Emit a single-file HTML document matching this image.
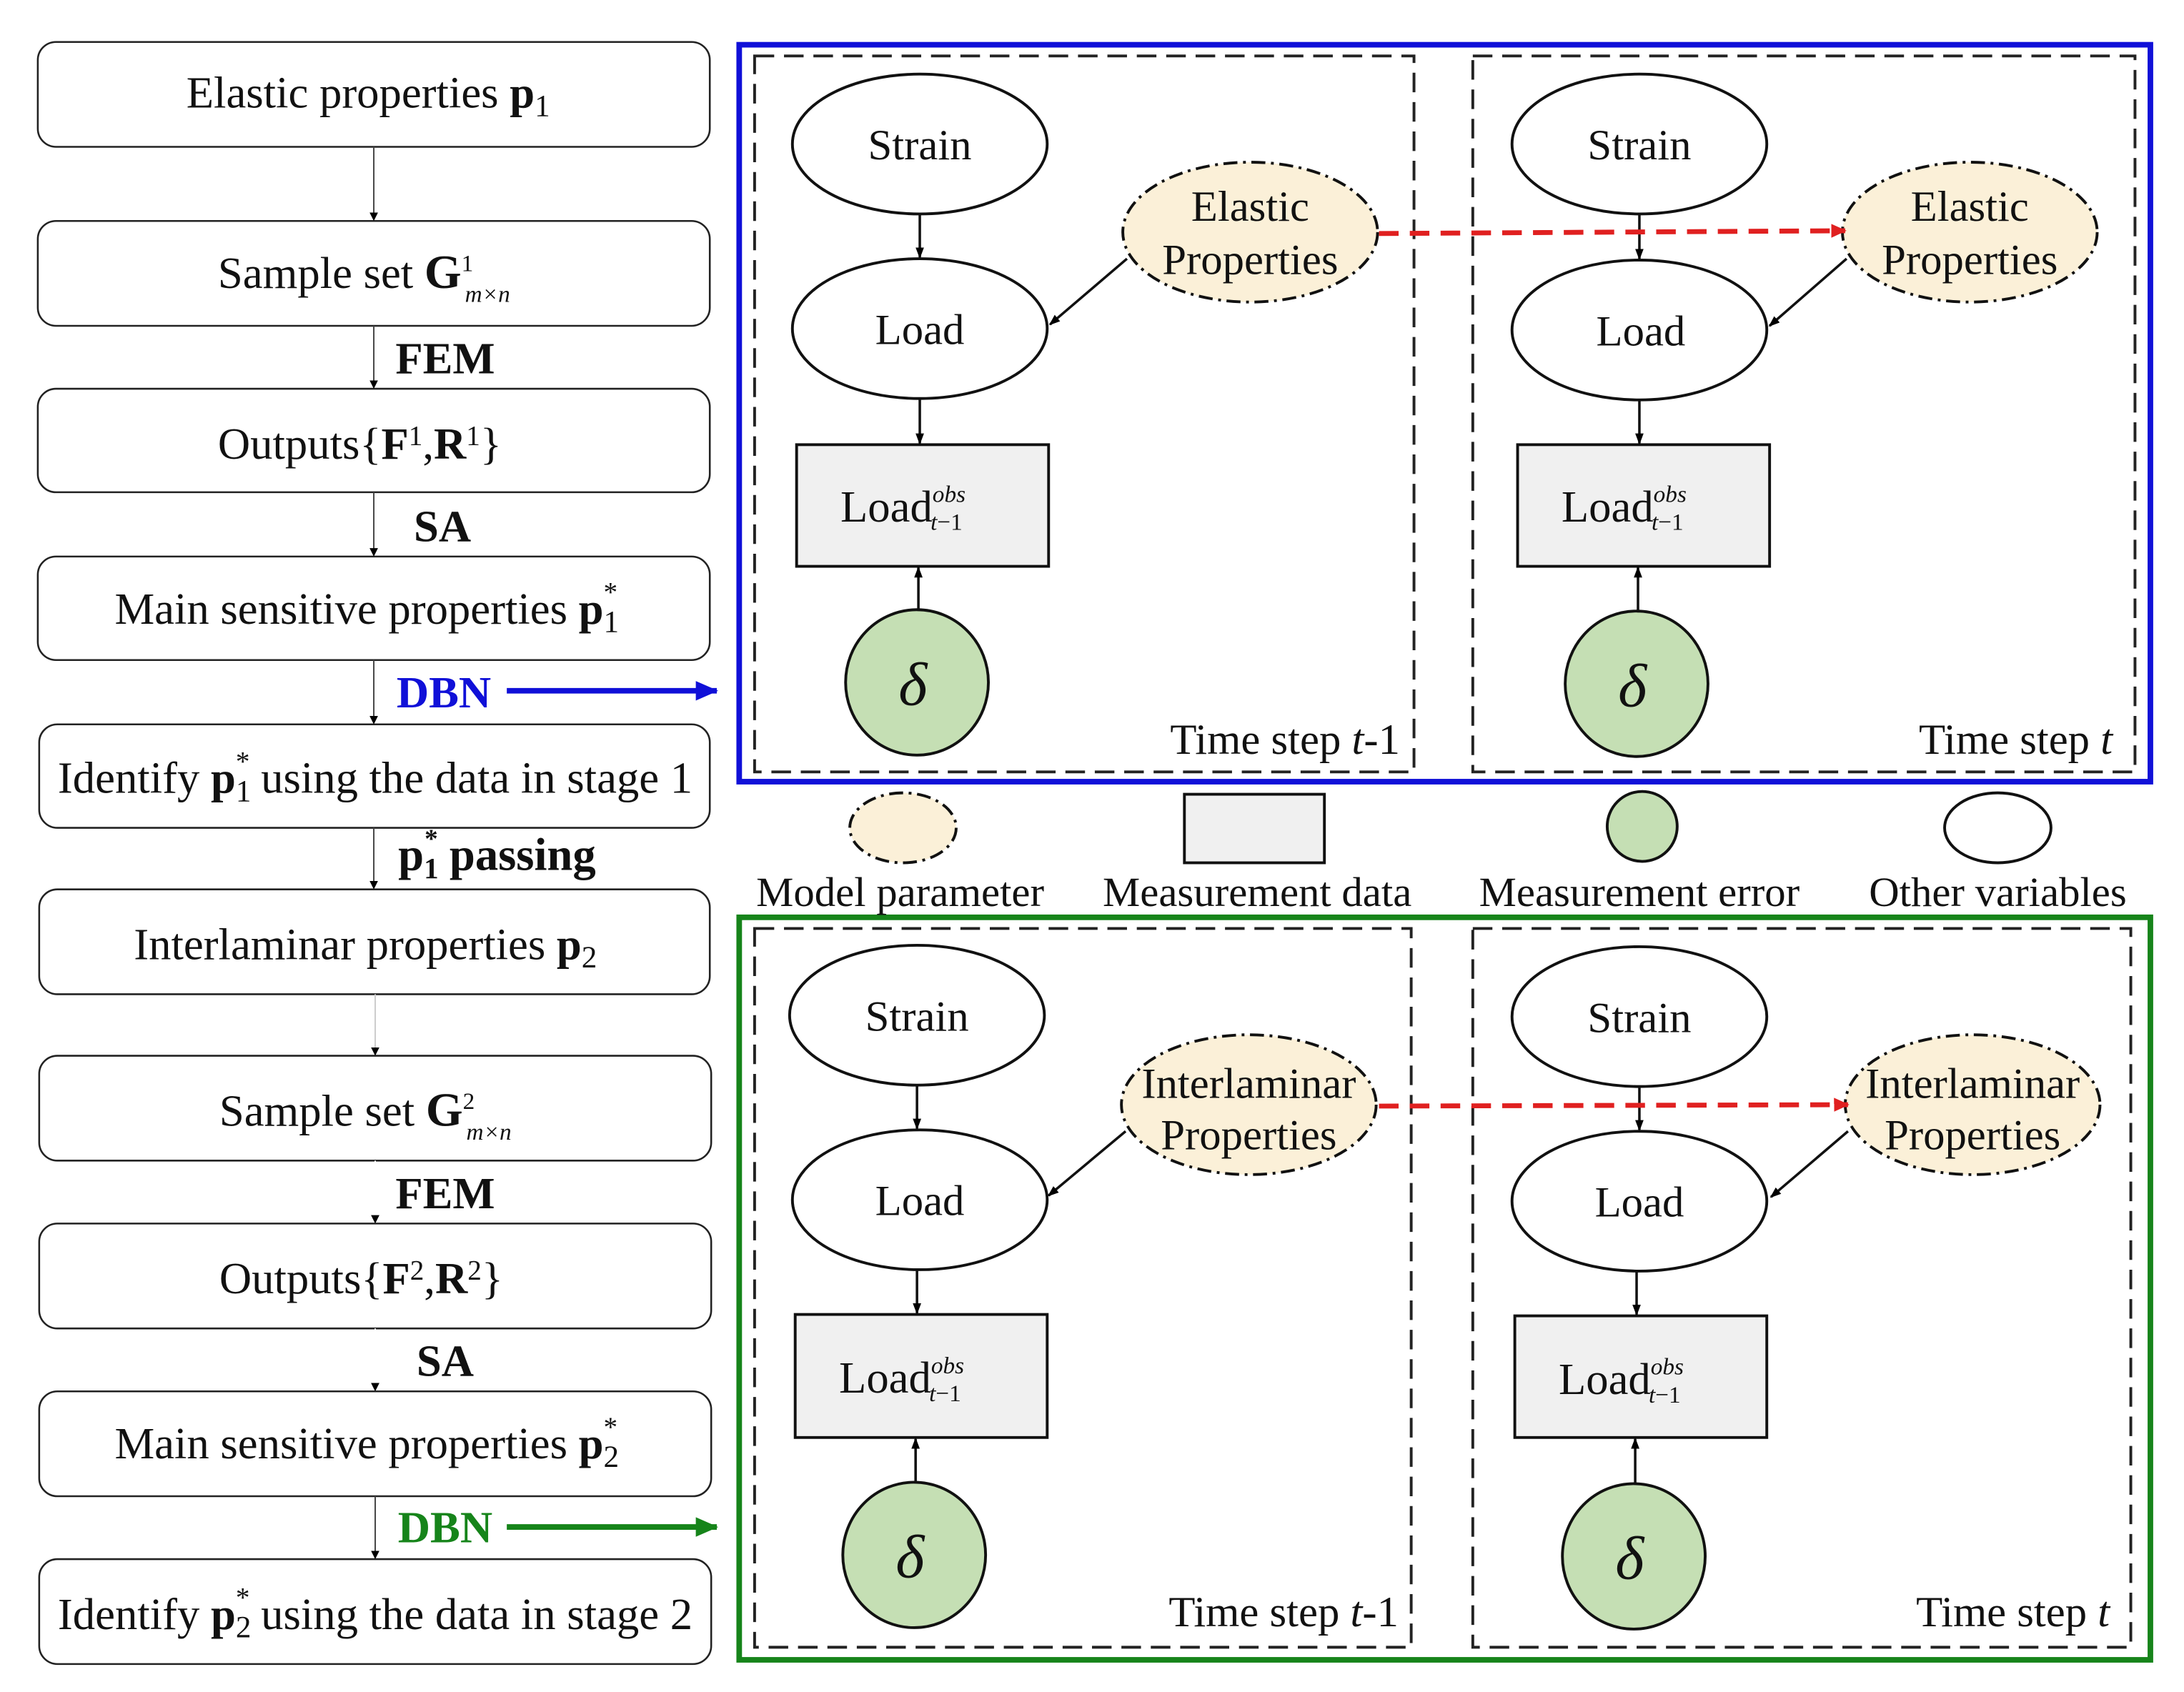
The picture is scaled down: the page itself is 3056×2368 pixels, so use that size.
<!DOCTYPE html>
<html><head><meta charset="utf-8"><style>
html,body{margin:0;padding:0;background:#fff;}
svg{display:block;}
text{font-family:"Liberation Serif",serif;fill:#111;}
</style></head><body>
<svg width="3056" height="2368" viewBox="0 0 1560 1210" preserveAspectRatio="none" xmlns="http://www.w3.org/2000/svg">
<defs>
<marker id="ah" markerWidth="8" markerHeight="8" refX="7" refY="4" orient="auto" markerUnits="userSpaceOnUse"><path d="M0,1 L8,4 L0,7 z" fill="#000"/></marker>
<marker id="ahs" markerWidth="6" markerHeight="6" refX="5" refY="3" orient="auto" markerUnits="userSpaceOnUse"><path d="M0,0 L6,3 L0,6 z" fill="#000"/></marker>
<marker id="ahr" markerWidth="12" markerHeight="12" refX="10" refY="6" orient="auto" markerUnits="userSpaceOnUse"><path d="M0,1 L11,6 L0,11 z" fill="#e02020"/></marker>
<marker id="ahb" markerWidth="16" markerHeight="14" refX="15" refY="7" orient="auto" markerUnits="userSpaceOnUse"><path d="M0,0 L16,7 L0,14 z" fill="#1010d8"/></marker>
<marker id="ahg" markerWidth="16" markerHeight="14" refX="15" refY="7" orient="auto" markerUnits="userSpaceOnUse"><path d="M0,0 L16,7 L0,14 z" fill="#16841a"/></marker>
</defs>
<rect width="1560" height="1210" fill="#fff"/>

<g fill="#fff" stroke="#222" stroke-width="1.3">
<rect x="27" y="30" width="480" height="75" rx="13"/>
<rect x="27" y="158" width="480" height="75" rx="13"/>
<rect x="27" y="278" width="480" height="74" rx="13"/>
<rect x="27" y="398" width="480" height="74" rx="13"/>
<rect x="28" y="518" width="479" height="74" rx="13"/>
<rect x="28" y="636" width="479" height="75" rx="13"/>
<rect x="28" y="755" width="480" height="75" rx="13"/>
<rect x="28" y="875" width="480" height="75" rx="13"/>
<rect x="28" y="995" width="480" height="75" rx="13"/>
<rect x="28" y="1115" width="480" height="75" rx="13"/>
</g>
<g stroke="#444" stroke-width="1" marker-end="url(#ahs)">
<line x1="267" y1="105" x2="267" y2="157"/>
<line x1="267" y1="233" x2="267" y2="277"/>
<line x1="267" y1="352" x2="267" y2="397"/>
<line x1="267" y1="472" x2="267" y2="517"/>
<line x1="267" y1="592" x2="267" y2="635"/>
<line x1="268" y1="711" x2="268" y2="754" stroke="#ccc"/>
<line x1="268" y1="830" x2="268" y2="874" stroke="#fff"/>
<line x1="268" y1="950" x2="268" y2="994" stroke="#fff"/>
<line x1="268" y1="1070" x2="268" y2="1114"/>
</g>
<g font-size="32" text-anchor="middle">
<text x="263" y="77">Elastic properties <tspan font-weight="bold">p</tspan><tspan font-size="22" dy="6">1</tspan></text>
<text x="260" y="206">Sample set <tspan font-weight="bold" font-size="34">G</tspan><tspan font-size="17" dy="-12">1</tspan><tspan font-size="17" font-style="italic" dx="-6" dy="22">m×n</tspan></text>
<text x="257" y="328">Outputs{<tspan font-weight="bold">F</tspan><tspan font-size="20" dy="-10">1</tspan><tspan dy="10">,</tspan><tspan font-weight="bold">R</tspan><tspan font-size="20" dy="-10">1</tspan><tspan dy="10">}</tspan></text>
<text x="262" y="446">Main sensitive properties <tspan font-weight="bold">p</tspan><tspan font-size="22" dy="6">1</tspan><tspan font-size="20" dx="-11" dy="-22">*</tspan></text>
<text x="268" y="567">Identify <tspan font-weight="bold">p</tspan><tspan font-size="22" dy="6">1</tspan><tspan font-size="20" dx="-11" dy="-22">*</tspan><tspan dy="16"> using the data in stage 1</tspan></text>
<text x="261" y="686">Interlaminar properties <tspan font-weight="bold">p</tspan><tspan font-size="22" dy="6">2</tspan></text>
<text x="261" y="805">Sample set <tspan font-weight="bold" font-size="34">G</tspan><tspan font-size="17" dy="-12">2</tspan><tspan font-size="17" font-style="italic" dx="-6" dy="22">m×n</tspan></text>
<text x="258" y="925">Outputs{<tspan font-weight="bold">F</tspan><tspan font-size="20" dy="-10">2</tspan><tspan dy="10">,</tspan><tspan font-weight="bold">R</tspan><tspan font-size="20" dy="-10">2</tspan><tspan dy="10">}</tspan></text>
<text x="262" y="1043">Main sensitive properties <tspan font-weight="bold">p</tspan><tspan font-size="22" dy="6">2</tspan><tspan font-size="20" dx="-11" dy="-22">*</tspan></text>
<text x="268" y="1165">Identify <tspan font-weight="bold">p</tspan><tspan font-size="22" dy="6">2</tspan><tspan font-size="20" dx="-11" dy="-22">*</tspan><tspan dy="16"> using the data in stage 2</tspan></text>
</g>
<g font-size="32" font-weight="bold" text-anchor="middle">
<text x="318" y="267">FEM</text>
<text x="316" y="387">SA</text>
<text x="317" y="506" style="fill:#1010d8">DBN</text>
<text x="355" y="622" font-size="33">p<tspan font-size="21" dy="6">1</tspan><tspan font-size="19" dx="-10" dy="-22">*</tspan><tspan dy="16"> passing</tspan></text>
<text x="318" y="864">FEM</text>
<text x="318" y="984">SA</text>
<text x="318" y="1103" style="fill:#16841a">DBN</text>
</g>
<line x1="362" y1="494" x2="512" y2="494" stroke="#1010d8" stroke-width="4" marker-end="url(#ahb)"/>
<line x1="362" y1="1092" x2="512" y2="1092" stroke="#16841a" stroke-width="4" marker-end="url(#ahg)"/>

<rect x="528" y="32" width="1008" height="527" fill="none" stroke="#1010d8" stroke-width="4"/>
<rect x="528" y="656" width="1008" height="531" fill="none" stroke="#16841a" stroke-width="4"/>
<g fill="none" stroke="#222" stroke-width="2" stroke-dasharray="14,7">
<rect x="539" y="40" width="471" height="512"/>
<rect x="1052" y="40" width="473" height="512"/>
<rect x="539" y="664" width="469" height="514"/>
<rect x="1052" y="664" width="470" height="514"/>
</g>

<g stroke="#111" stroke-width="2">
<ellipse cx="657" cy="103" rx="91" ry="50" fill="#fff"/>
<ellipse cx="657" cy="235" rx="91" ry="50" fill="#fff"/>
<rect x="569" y="318" width="180" height="87" fill="#f0f0f0"/>
<ellipse cx="655" cy="488" rx="51" ry="52" fill="#c5dfb4"/>
<ellipse cx="893" cy="166" rx="91" ry="50" fill="#fbf0d8" stroke-dasharray="10,4,2,4"/>
<ellipse cx="1171" cy="103" rx="91" ry="50" fill="#fff"/>
<ellipse cx="1171" cy="236" rx="91" ry="50" fill="#fff"/>
<rect x="1084" y="318" width="180" height="87" fill="#f0f0f0"/>
<ellipse cx="1169" cy="489" rx="51" ry="52" fill="#c5dfb4"/>
<ellipse cx="1407" cy="166" rx="91" ry="50" fill="#fbf0d8" stroke-dasharray="10,4,2,4"/>
<ellipse cx="655" cy="726" rx="91" ry="50" fill="#fff"/>
<ellipse cx="657" cy="858" rx="91" ry="50" fill="#fff"/>
<rect x="568" y="940" width="180" height="88" fill="#f0f0f0"/>
<ellipse cx="653" cy="1112" rx="51" ry="52" fill="#c5dfb4"/>
<ellipse cx="892" cy="790" rx="91" ry="50" fill="#fbf0d8" stroke-dasharray="10,4,2,4"/>
<ellipse cx="1171" cy="727" rx="91" ry="50" fill="#fff"/>
<ellipse cx="1171" cy="859" rx="91" ry="50" fill="#fff"/>
<rect x="1082" y="941" width="180" height="87" fill="#f0f0f0"/>
<ellipse cx="1167" cy="1113" rx="51" ry="52" fill="#c5dfb4"/>
<ellipse cx="1409" cy="790" rx="91" ry="50" fill="#fbf0d8" stroke-dasharray="10,4,2,4"/>
<ellipse cx="645" cy="592" rx="38" ry="25" fill="#fbf0d8" stroke-dasharray="10,4,2,4"/>
<rect x="846" y="568" width="100" height="49" fill="#f0f0f0"/>
<ellipse cx="1173" cy="591" rx="25" ry="25" fill="#c5dfb4"/>
<ellipse cx="1427" cy="592" rx="38" ry="25" fill="#fff"/>
</g>

<g stroke="#111" stroke-width="1.8" marker-end="url(#ah)">
<line x1="657" y1="153" x2="657" y2="184"/>
<line x1="657" y1="285" x2="657" y2="317"/>
<line x1="656" y1="437" x2="656" y2="406"/>
<line x1="805" y1="185" x2="750" y2="232"/>
<line x1="1171" y1="153" x2="1171" y2="185"/>
<line x1="1171" y1="286" x2="1171" y2="317"/>
<line x1="1170" y1="438" x2="1170" y2="406"/>
<line x1="1319" y1="185" x2="1264" y2="233"/>
<line x1="655" y1="776" x2="655" y2="807"/>
<line x1="655" y1="908" x2="655" y2="939"/>
<line x1="654" y1="1061" x2="654" y2="1029"/>
<line x1="804" y1="809" x2="749" y2="855"/>
<line x1="1171" y1="777" x2="1171" y2="808"/>
<line x1="1169" y1="909" x2="1169" y2="940"/>
<line x1="1168" y1="1062" x2="1168" y2="1029"/>
<line x1="1320" y1="809" x2="1265" y2="856"/>
</g>
<line x1="985" y1="167" x2="1318" y2="165" stroke="#e02020" stroke-width="3.5" stroke-dasharray="14,8" marker-end="url(#ahr)"/>
<line x1="985" y1="791" x2="1320" y2="790" stroke="#e02020" stroke-width="3.5" stroke-dasharray="14,8" marker-end="url(#ahr)"/>

<g font-size="31" text-anchor="middle">
<text x="657" y="114">Strain</text><text x="657" y="246">Load</text>
<text x="893" y="158">Elastic</text><text x="893" y="196">Properties</text>
<text x="1171" y="114">Strain</text><text x="1172" y="247">Load</text>
<text x="1407" y="158">Elastic</text><text x="1407" y="196">Properties</text>
<text x="655" y="737">Strain</text><text x="657" y="869">Load</text>
<text x="892" y="785">Interlaminar</text><text x="892" y="822">Properties</text>
<text x="1171" y="738">Strain</text><text x="1171" y="870">Load</text>
<text x="1409" y="785">Interlaminar</text><text x="1409" y="822">Properties</text>
</g>
<g font-size="32" text-anchor="middle">
<text x="645" y="373">Load<tspan font-size="17" font-style="italic" dy="-14">obs</tspan><tspan font-size="17" font-style="italic" dx="-25" dy="20">t</tspan><tspan font-size="17">−1</tspan></text>
<text x="1160" y="373">Load<tspan font-size="17" font-style="italic" dy="-14">obs</tspan><tspan font-size="17" font-style="italic" dx="-25" dy="20">t</tspan><tspan font-size="17">−1</tspan></text>
<text x="644" y="996">Load<tspan font-size="17" font-style="italic" dy="-14">obs</tspan><tspan font-size="17" font-style="italic" dx="-25" dy="20">t</tspan><tspan font-size="17">−1</tspan></text>
<text x="1158" y="997">Load<tspan font-size="17" font-style="italic" dy="-14">obs</tspan><tspan font-size="17" font-style="italic" dx="-25" dy="20">t</tspan><tspan font-size="17">−1</tspan></text>
</g>
<g font-size="44" font-style="italic" text-anchor="middle">
<text x="652" y="504">δ</text><text x="1166" y="505">δ</text>
<text x="650" y="1128">δ</text><text x="1164" y="1129">δ</text>
</g>
<g font-size="31" text-anchor="end">
<text x="1000" y="539">Time step <tspan font-style="italic">t</tspan>-1</text>
<text x="1509" y="539">Time step <tspan font-style="italic">t</tspan></text>
<text x="999" y="1163">Time step <tspan font-style="italic">t</tspan>-1</text>
<text x="1507" y="1163">Time step <tspan font-style="italic">t</tspan></text>
</g>
<g font-size="30" text-anchor="middle">
<text x="643" y="648">Model parameter</text>
<text x="898" y="648">Measurement data</text>
<text x="1171" y="648">Measurement error</text>
<text x="1427" y="648">Other variables</text>
</g>
</svg>
</body></html>
